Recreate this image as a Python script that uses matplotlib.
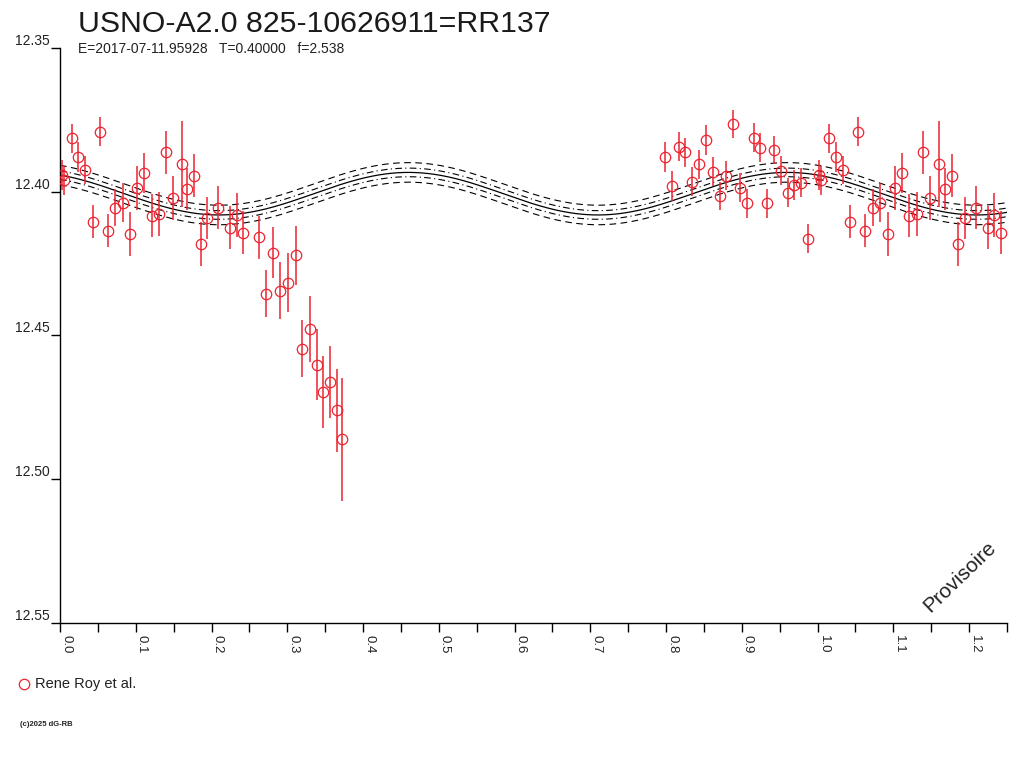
import numpy as np
import matplotlib
matplotlib.use('Agg')
import matplotlib.pyplot as plt
from matplotlib.ticker import MultipleLocator, FixedLocator


titre = "USNO-A2.0 825-10626911=RR137"
sous_titre = "E=2017-07-11.95928   T=0.40000   f=2.538"
observateur = "Rene Roy et al."

# phase, magnitude et erreur
phases = [0.002, 0.005, 0.0154, 0.0242, 0.0330, 0.0432, 0.0528, 0.0630, 0.0726, 0.0828,
		  0.0924, 0.1021, 0.1113, 0.1211, 0.1307, 0.1396, 0.1488, 0.1607, 0.1677, 0.1769,
		  0.1858, 0.1945, 0.2090, 0.2245, 0.2333, 0.2420, 0.2628, 0.2720, 0.2813, 0.2905,
		  0.3015, 0.3112, 0.3200, 0.3302, 0.3390, 0.3478, 0.3565, 0.3653, 0.3724,
		  0.7989, 0.8077, 0.8165, 0.8253, 0.8341, 0.8441, 0.8526, 0.8618, 0.8706, 0.8795,
		  0.8887, 0.8979, 0.9067, 0.9160, 0.9243, 0.9331, 0.9424, 0.9516, 0.9604, 0.9692,
		  0.9785, 0.9869]
magnitudes = [12.3942, 12.3960, 12.3814, 12.3880, 12.3925, 12.4104, 12.3791, 12.4136, 12.4056, 12.4038,
			  12.4148, 12.3988, 12.3934, 12.4083, 12.4078, 12.3863, 12.4023, 12.3904, 12.3992, 12.3944,
			  12.4182, 12.4090, 12.4056, 12.4125, 12.4081, 12.4143, 12.4159, 12.4355, 12.4212, 12.4344,
			  12.4316, 12.4221, 12.4546, 12.4477, 12.4602, 12.4696, 12.4661, 12.4760, 12.4861,
			  12.3880, 12.3979, 12.3844, 12.3863, 12.3965, 12.3905, 12.3820, 12.3930, 12.4015, 12.3945,
			  12.3765, 12.3986, 12.4040, 12.3812, 12.3847, 12.4040, 12.3855, 12.3927, 12.4004, 12.3977,
			  12.3969, 12.4164]
erreurs = [0.0051, 0.0051, 0.0051, 0.0052, 0.0050, 0.0058, 0.0050, 0.0058, 0.0065, 0.0068,
		   0.0076, 0.0076, 0.0070, 0.0075, 0.0076, 0.0075, 0.0076, 0.0150, 0.0073, 0.0075,
		   0.0075, 0.0073, 0.0075, 0.0076, 0.0075, 0.0075, 0.0075, 0.0082, 0.0089, 0.0100,
		   0.0102, 0.0103, 0.0100, 0.0114, 0.0124, 0.0126, 0.0126, 0.0144, 0.0213,
		   0.0052, 0.0052, 0.0051, 0.0051, 0.0050, 0.0051, 0.0051, 0.0051, 0.0050, 0.0050,
		   0.0050, 0.0050, 0.0051, 0.0050, 0.0050, 0.0051, 0.0050, 0.0051, 0.0051, 0.0052,
		   0.0050, 0.0050]

# parametres de l'ajustement sinusoidal
moyenne = 12.4007
amplitude = 0.0074
phase_max = 0.46
frequence = 2.0
enveloppe_interne = 0.0015
enveloppe_externe = 0.0034

PHASE_FIN = 1.25
ROUGE = '#ec2330'


def courbeDeLumiere() -> None:
	"""
	Trace la courbe de lumiere en phase (de 0 a 1.25) avec l'ajustement et ses enveloppes.
	"""
	plt.rcParams['font.family'] = ['Liberation Sans', 'DejaVu Sans']

	fig = plt.figure(figsize=(10.24, 7.68), dpi=100)
	ax = fig.add_axes([60 / 1024, 1 - 623 / 768, 947 / 1024, 575.1 / 768])

	# repetition des points au-dela de la phase 1
	x = list(phases) + [p + 1 for p in phases if p + 1 <= PHASE_FIN]
	y = list(magnitudes) + [m for p, m in zip(phases, magnitudes) if p + 1 <= PHASE_FIN]
	e = list(erreurs) + [s for p, s in zip(phases, erreurs) if p + 1 <= PHASE_FIN]

	# ajustement
	grille = np.linspace(0, PHASE_FIN, 800)
	fit = moyenne - amplitude * np.cos(2 * np.pi * frequence * (grille - phase_max))
	ax.plot(grille, fit, color='black', lw=0.9)
	for signe in (-1, 1):
		ax.plot(grille, fit + signe * enveloppe_interne, color='black', lw=0.8, dashes=(6, 3, 1, 3))
		ax.plot(grille, fit + signe * enveloppe_externe, color='black', lw=0.8, dashes=(6, 4))

	ax.errorbar(x, y, yerr=e, fmt='o', ms=7.5, mfc='none', mec=ROUGE, mew=0.9,
				ecolor=ROUGE, elinewidth=1.1, capsize=0, zorder=3)

	ax.set_xlim(0, PHASE_FIN)
	ax.set_ylim(12.55, 12.35)

	for cote in ('top', 'right'):
		ax.spines[cote].set_visible(False)
	ax.spines['left'].set_linewidth(1.0)
	ax.spines['bottom'].set_linewidth(1.0)

	ax.xaxis.set_major_locator(MultipleLocator(0.1))
	ax.xaxis.set_minor_locator(MultipleLocator(0.05))
	ax.yaxis.set_major_locator(FixedLocator([12.35, 12.40, 12.45, 12.50, 12.55]))
	ax.tick_params(axis='x', which='both', direction='out', length=6.3, width=1.0, pad=2,
				   labelsize=9.5, labelcolor='#222222', labelrotation=-90)
	ax.tick_params(axis='y', direction='out', length=6.5, width=1.0, pad=1,
				   labelsize=10, labelcolor='#222222')
	ax.xaxis.set_major_formatter(plt.FuncFormatter(lambda v, pos: f"{v:.1f}"))
	ax.yaxis.set_major_formatter(plt.FuncFormatter(lambda v, pos: f"{v:.2f}"))
	for etiquette in ax.get_xticklabels():
		etiquette.set_ha('left')
		etiquette.set_va('top')
	for etiquette in ax.get_yticklabels():
		etiquette.set_va('bottom')

	fig.text(78 / 1024, 1 - 32 / 768, titre, fontsize=21.8, color='#1a1a1a', va='baseline')
	fig.text(78 / 1024, 1 - 53 / 768, sous_titre, fontsize=10, color='#222222', va='baseline')

	ax.text(0.950, 0.08, "Provisoire", transform=ax.transAxes, fontsize=15,
			rotation=44, ha='center', va='center', color='#222222')

	# legende
	fig.lines.append(plt.Line2D([24 / 1024], [1 - 684 / 768], transform=fig.transFigure,
								marker='o', ms=7.5, mfc='none', mec=ROUGE, mew=0.9, ls='none'))
	fig.text(35 / 1024, 1 - 684 / 768, observateur, fontsize=10.5, color='#222222', va='center')
	fig.text(20 / 1024, 1 - 724 / 768, "(c)2025 dG-RB", fontsize=5.5, color='#222222',
			 va='center', fontweight='bold')

	fig.savefig('out.png', dpi=100)


if __name__ == '__main__':
	courbeDeLumiere()
